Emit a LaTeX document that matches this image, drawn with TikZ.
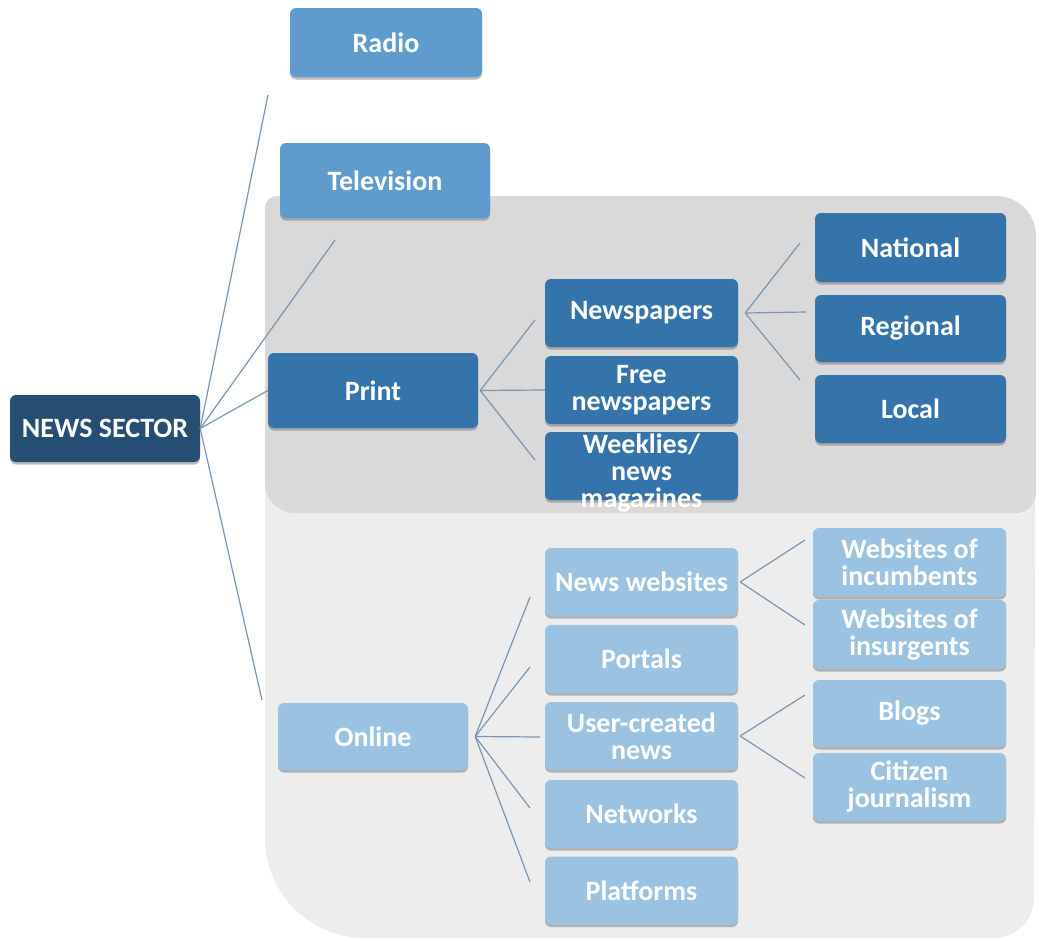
\documentclass[tikz,border=0pt]{standalone}
\usepackage{fontspec}
\setmainfont{Carlito}
\usetikzlibrary{shadows}
\definecolor{cdark}{HTML}{264E73}
\definecolor{cmid}{HTML}{5F9BCD}
\definecolor{cprint}{HTML}{3574AA}
\definecolor{clight}{HTML}{9BC3E1}
\definecolor{bgdark}{HTML}{D9D9D9}
\definecolor{bglight}{HTML}{EDEDED}
\definecolor{cline}{HTML}{7896B4}
\begin{document}
\begin{tikzpicture}[x=1pt,y=-1pt,
  box/.style={rounded corners=6pt, inner sep=0pt, align=center, text=white,
    font=\fontsize{28}{27}\selectfont\bfseries,
    drop shadow={shadow xshift=0pt, shadow yshift=-2.5pt, opacity=0.45, fill=black!60}},
  bw/.style={minimum width=193pt, minimum height=68pt},
  link/.style={draw=cline, line width=1.2pt}]
\useasboundingbox (0,0) rectangle (1039,940);
% background regions
\fill[bglight] (265,208) arc[start angle=180, end angle=270, radius=12]
  -- (996,196) arc[start angle=270, end angle=360, radius=40]
  -- (1034,898) arc[start angle=0, end angle=90, radius=40]
  -- (365,938) arc[start angle=90, end angle=180, radius=100] -- cycle;
\fill[bgdark] (265,208) arc[start angle=180, end angle=270, radius=12]
  -- (996,196) arc[start angle=270, end angle=360, radius=40]
  -- (1036,493) arc[start angle=0, end angle=90, radius=20]
  -- (295,513) arc[start angle=90, end angle=180, radius=30] -- cycle;
% nodes
\node[box, fill=cdark, minimum width=190pt, minimum height=67pt] (ns) at (105,428.5) {NEWS SECTOR};
\node[box, fill=cmid, minimum width=192pt, minimum height=69pt] (radio) at (386,42.5) {Radio};
\node[box, fill=cmid, minimum width=210pt, minimum height=75pt] (tv) at (385,180.5) {Television};
\node[box, fill=cprint, minimum width=210pt, minimum height=75pt] (print) at (373,390.5) {Print};
\node[box, fill=clight, minimum width=190pt, minimum height=67pt] (online) at (373,736.5) {Online};
\node[box, bw, fill=cprint] (newsp) at (641.5,313) {Newspapers};
\node[box, bw, fill=cprint] (free) at (641.5,390) {Free\\newspapers};
\node[box, bw, fill=cprint] (weekl) at (641.5,466) {\raisebox{-13pt}[0pt][0pt]{\parbox[c]{193pt}{\centering Weeklies/\\news\\magazines}}};
\node[box, fill=cprint, minimum width=191pt, minimum height=69pt] (national) at (910.5,247.5) {National};
\node[box, fill=cprint, minimum width=191pt, minimum height=67pt] (regional) at (910.5,328.5) {Regional};
\node[box, fill=cprint, minimum width=191pt, minimum height=68pt] (local) at (910.5,409) {Local};
\node[box, bw, fill=clight] (newsweb) at (641.5,582) {News websites};
\node[box, bw, fill=clight] (portals) at (641.5,659) {Portals};
\node[box, bw, fill=clight] (ugc) at (641.5,736) {User-created\\news};
\node[box, bw, fill=clight] (networks) at (641.5,814) {Networks};
\node[box, bw, fill=clight] (platforms) at (641.5,890.5) {Platforms};
\node[box, bw, fill=clight, minimum height=69pt] (inc) at (909.5,562.5) {Websites of\\incumbents};
\node[box, bw, fill=clight, minimum height=69pt] (ins) at (909.5,634.5) {Websites of\\insurgents};
\node[box, bw, fill=clight, minimum height=67pt] (blogs) at (909.5,713.5) {Blogs};
\node[box, bw, fill=clight] (citizen) at (909.5,787) {Citizen\\journalism};
% free connector ends
\coordinate (eradio) at (268,95);
\coordinate (etv) at (335,240);
\coordinate (eonline) at (262,700);
\coordinate (ep1) at (535,320);
\coordinate (ep2) at (545,390);
\coordinate (ep3) at (535,460);
\coordinate (en1) at (800,243);
\coordinate (en2) at (806,312);
\coordinate (en3) at (800,380);
\coordinate (eo1) at (530,597);
\coordinate (eo2) at (530,667);
\coordinate (eo3) at (540,737);
\coordinate (eo4) at (530,808);
\coordinate (eo5) at (530,882);
\coordinate (ew1) at (805,540);
\coordinate (ew2) at (805,625);
\coordinate (eu1) at (805,695);
\coordinate (eu2) at (805,778);
% connectors
\draw[link] (ns.east) -- (eradio);
\draw[link] (ns.east) -- (etv);
\draw[link] (ns.east) -- (print.west);
\draw[link] (ns.east) -- (eonline);
\draw[link] ([xshift=2pt]print.east) -- (ep1);
\draw[link] ([xshift=2pt]print.east) -- (ep2);
\draw[link] ([xshift=2pt]print.east) -- (ep3);
\draw[link] ([xshift=7pt]newsp.east) -- (en1);
\draw[link] ([xshift=7pt]newsp.east) -- (en2);
\draw[link] ([xshift=7pt]newsp.east) -- (en3);
\draw[link] ([xshift=7pt]online.east) -- (eo1);
\draw[link] ([xshift=7pt]online.east) -- (eo2);
\draw[link] ([xshift=7pt]online.east) -- (eo3);
\draw[link] ([xshift=7pt]online.east) -- (eo4);
\draw[link] ([xshift=7pt]online.east) -- (eo5);
\draw[link] ([xshift=2pt]newsweb.east) -- (ew1);
\draw[link] ([xshift=2pt]newsweb.east) -- (ew2);
\draw[link] ([xshift=2pt]ugc.east) -- (eu1);
\draw[link] ([xshift=2pt]ugc.east) -- (eu2);
\end{tikzpicture}
\end{document}
